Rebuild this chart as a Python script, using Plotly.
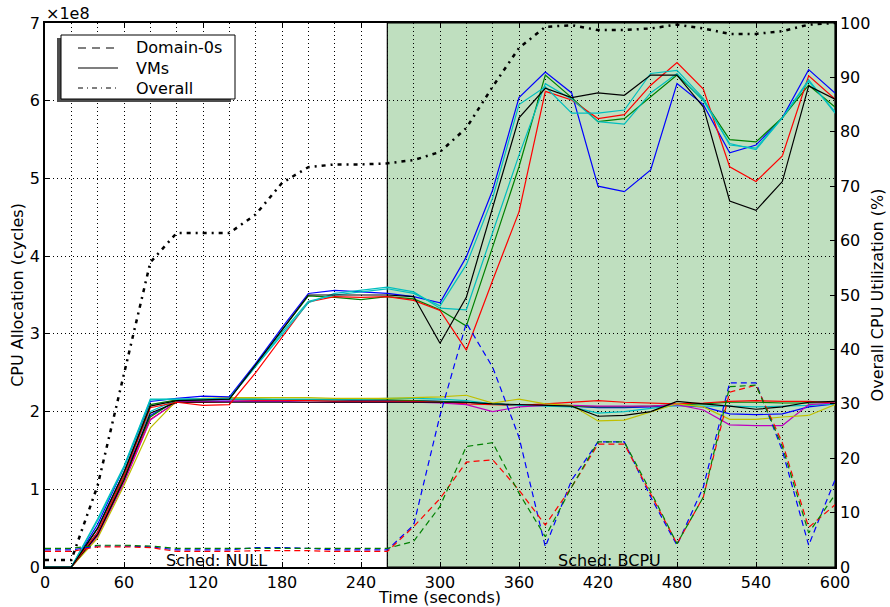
import plotly.graph_objects as go

# Sample times (seconds)
times = [0, 20, 40, 60, 80, 100, 120, 140, 160, 180, 200, 220, 240, 260, 280, 300,
         320, 340, 360, 380, 400, 420, 440, 460, 480, 500, 520, 540, 560, 580, 600]

# Domain-0 CPU allocation (x1e8 cycles)
dom0_blue = [0.22, 0.22, 0.27, 0.27, 0.26, 0.22, 0.22, 0.22, 0.25, 0.25, 0.24, 0.22, 0.22, 0.22, 0.54, 1.95,
             3.14, 2.57, 1.67, 0.26, 1.12, 1.61, 1.61, 0.90, 0.28, 1.03, 2.37, 2.37, 1.50, 0.28, 1.12]
dom0_red = [0.20, 0.20, 0.26, 0.26, 0.25, 0.20, 0.20, 0.20, 0.21, 0.21, 0.21, 0.20, 0.20, 0.20, 0.52, 0.88,
            1.35, 1.38, 0.99, 0.54, 1.03, 1.58, 1.58, 0.95, 0.30, 0.90, 2.25, 2.34, 1.60, 0.51, 0.80]
dom0_green = [0.24, 0.24, 0.28, 0.28, 0.27, 0.24, 0.24, 0.24, 0.24, 0.24, 0.24, 0.24, 0.24, 0.24, 0.33, 0.78,
              1.55, 1.60, 0.95, 0.39, 1.03, 1.61, 1.61, 0.97, 0.30, 0.90, 2.32, 2.34, 1.55, 0.44, 0.93]

# VM CPU allocation (x1e8 cycles): VMs that grow after t=140
vm_hi_blue = [0, 0, 0.55, 1.28, 2.13, 2.17, 2.20, 2.19, 2.62, 3.08, 3.52, 3.56, 3.54, 3.52, 3.48, 3.40,
              3.99, 4.85, 6.04, 6.37, 6.10, 4.90, 4.83, 5.11, 6.22, 5.95, 5.33, 5.43, 5.78, 6.40, 6.10]
vm_hi_green = [0, 0, 0.50, 1.22, 2.09, 2.15, 2.15, 2.16, 2.60, 3.05, 3.49, 3.47, 3.44, 3.48, 3.45, 3.31,
               3.10, 4.12, 5.15, 6.33, 6.04, 5.73, 5.77, 6.05, 6.33, 6.01, 5.50, 5.47, 5.78, 6.20, 5.92]
vm_hi_red = [0, 0, 0.45, 1.18, 2.05, 2.12, 2.08, 2.09, 2.50, 2.95, 3.41, 3.48, 3.47, 3.48, 3.43, 3.30,
             2.79, 3.69, 4.57, 6.12, 6.01, 5.77, 5.82, 6.20, 6.49, 6.15, 5.15, 4.96, 5.29, 6.32, 6.02]
vm_hi_cyan = [0, 0, 0.62, 1.30, 2.16, 2.16, 2.16, 2.17, 2.58, 3.00, 3.40, 3.52, 3.56, 3.60, 3.54, 3.33,
              3.31, 4.30, 5.30, 6.22, 6.02, 5.73, 5.70, 6.10, 6.35, 6.00, 5.45, 5.37, 5.78, 6.25, 5.86]
vm_hi_cyan2 = [0, 0, 0.60, 1.28, 2.15, 2.16, 2.16, 2.17, 2.58, 3.02, 3.42, 3.50, 3.54, 3.58, 3.52, 3.36,
               3.89, 4.75, 5.95, 6.18, 5.84, 5.84, 5.88, 6.35, 6.39, 6.03, 5.43, 5.39, 5.78, 6.27, 5.84]
vm_hi_black = [0, 0, 0.50, 1.22, 2.07, 2.14, 2.15, 2.16, 2.60, 3.05, 3.50, 3.50, 3.50, 3.50, 3.48, 2.88,
               3.47, 4.64, 5.78, 6.16, 6.04, 6.10, 6.07, 6.33, 6.33, 5.92, 4.71, 4.59, 4.96, 6.19, 6.02]

# VMs that stay near 2.1e8
vm_lo_blue = [0, 0, 0.45, 1.18, 1.95, 2.14, 2.15, 2.15, 2.15, 2.15, 2.15, 2.15, 2.14, 2.14, 2.14, 2.13,
              2.12, 2.10, 2.08, 2.08, 2.07, 2.05, 2.05, 2.06, 2.08, 2.06, 1.97, 1.96, 1.97, 2.06, 2.10]
vm_lo_green = [0, 0, 0.42, 1.15, 1.93, 2.15, 2.16, 2.16, 2.16, 2.15, 2.15, 2.15, 2.15, 2.15, 2.14, 2.13,
               2.12, 2.10, 2.08, 2.08, 2.07, 2.06, 2.06, 2.07, 2.09, 2.10, 2.12, 2.12, 2.11, 2.11, 2.12]
vm_lo_red = [0, 0, 0.40, 1.12, 1.90, 2.12, 2.12, 2.13, 2.14, 2.14, 2.14, 2.13, 2.13, 2.13, 2.13, 2.12,
             2.10, 2.09, 2.08, 2.10, 2.12, 2.14, 2.12, 2.11, 2.10, 2.11, 2.13, 2.14, 2.13, 2.13, 2.11]
vm_lo_cyan = [0, 0, 0.50, 1.22, 2.00, 2.15, 2.16, 2.16, 2.16, 2.16, 2.16, 2.16, 2.16, 2.17, 2.17, 2.16,
              2.14, 2.10, 2.08, 2.07, 2.06, 1.98, 2.00, 2.04, 2.08, 2.07, 2.07, 2.06, 2.07, 2.08, 2.10]
vm_lo_magenta = [0, 0, 0.40, 1.08, 1.89, 2.13, 2.13, 2.13, 2.13, 2.13, 2.12, 2.12, 2.12, 2.12, 2.12, 2.11,
                 2.09, 2.00, 2.06, 2.08, 2.08, 2.07, 2.07, 2.07, 2.09, 2.02, 1.83, 1.82, 1.82, 2.09, 2.11]
vm_lo_yellow = [0, 0, 0.37, 1.05, 1.79, 2.14, 2.17, 2.18, 2.18, 2.18, 2.18, 2.17, 2.17, 2.17, 2.18, 2.19,
                2.21, 2.11, 2.16, 2.10, 2.08, 1.88, 1.89, 2.00, 2.10, 2.06, 1.90, 1.90, 1.93, 1.95, 2.09]
vm_lo_black = [0, 0, 0.42, 1.12, 1.98, 2.12, 2.12, 2.12, 2.12, 2.12, 2.12, 2.12, 2.12, 2.12, 2.12, 2.12,
               2.12, 2.10, 2.09, 2.08, 2.07, 1.94, 1.95, 2.00, 2.13, 2.10, 2.07, 2.03, 2.06, 2.12, 2.13]

# Overall CPU utilization (%)
overall = [1.3, 1.3, 15.0, 35.7, 56.0, 61.4, 61.4, 61.4, 64.8, 70.6, 73.5, 74.0, 74.0, 74.2, 74.8, 76.3,
           80.7, 88.3, 95.4, 99.3, 99.6, 98.7, 98.7, 99.0, 99.7, 99.0, 98.0, 98.0, 98.5, 99.7, 100.0]

x_ticks = [0, 60, 120, 180, 240, 300, 360, 420, 480, 540, 600]
y_ticks = [0, 1, 2, 3, 4, 5, 6, 7]
y2_ticks = [0, 10, 20, 30, 40, 50, 60, 70, 80, 90, 100]

# Legend entries: label and line dash
legend_labels = ["Domain-0s", "VMs", "Overall"]
legend_dashes = ["8px,6px", "solid", "5px,4px,1px,4px"]

BLUE, GREEN, RED = "#0000ff", "#008000", "#ff0000"
CYAN, MAGENTA, YELLOW, BLACK = "#00bfbf", "#bf00bf", "#bfbf00", "#000000"

FONT = "DejaVu Sans"
W, H = 890, 607
ML, MR, MT, MB = 45, 55, 23, 40
PW, PH = W - ML - MR, H - MT - MB


def px_x(px):
    return (px - ML) / PW


def px_y(py):
    return (H - MB - py) / PH


fig = go.Figure()

vm_series = [
    (vm_lo_blue, BLUE), (vm_lo_green, GREEN), (vm_lo_red, RED), (vm_lo_cyan, CYAN),
    (vm_lo_magenta, MAGENTA), (vm_lo_yellow, YELLOW), (vm_lo_black, BLACK),
    (vm_hi_blue, BLUE), (vm_hi_green, GREEN), (vm_hi_red, RED), (vm_hi_cyan, CYAN),
    (vm_hi_cyan2, CYAN), (vm_hi_black, BLACK),
]
for vals, col in vm_series:
    fig.add_trace(go.Scatter(x=times, y=vals, mode="lines", showlegend=False,
                             line=dict(color=col, width=1.2), hoverinfo="skip"))

for vals, col in [(dom0_blue, BLUE), (dom0_red, RED), (dom0_green, GREEN)]:
    fig.add_trace(go.Scatter(x=times, y=vals, mode="lines", showlegend=False,
                             line=dict(color=col, width=1.2, dash="6px,4px"), hoverinfo="skip"))

fig.add_trace(go.Scatter(x=times, y=overall, mode="lines", yaxis="y2", showlegend=False,
                         line=dict(color=BLACK, width=2.5, dash="4px,5px,2px,5px"),
                         hoverinfo="skip"))

shapes = [
    # BCPU scheduler period
    dict(type="rect", xref="x", yref="y domain", x0=260, x1=600, y0=0, y1=1,
         fillcolor="rgba(0,128,0,0.25)", line=dict(color=BLACK, width=1.2), layer="below"),
    # legend shadow and frame
    dict(type="rect", xref="paper", yref="paper", x0=px_x(57), x1=px_x(231),
         y0=px_y(102), y1=px_y(38), fillcolor="#4d4d4d", line=dict(width=0), layer="above"),
    dict(type="rect", xref="paper", yref="paper", x0=px_x(61), x1=px_x(235),
         y0=px_y(99), y1=px_y(35), fillcolor="white", line=dict(color=BLACK, width=1),
         layer="above"),
]

annotations = [
    dict(text="×1e8", xref="paper", yref="paper", x=0, y=1, xanchor="left", yanchor="bottom",
         showarrow=False, font=dict(size=16, color=BLACK), xshift=-1, yshift=-2),
    dict(text="Sched: NULL", xref="x", yref="y", x=130, y=0, xanchor="center",
         yanchor="bottom", showarrow=False, font=dict(size=16, color=BLACK), yshift=-5),
    dict(text="Sched: BCPU", xref="x", yref="y", x=428.5, y=0, xanchor="center",
         yanchor="bottom", showarrow=False, font=dict(size=16, color=BLACK), yshift=-5),
]

# Legend rows
for i, (label, dash) in enumerate(zip(legend_labels, legend_dashes)):
    row_y = 48 + 20 * i
    shapes.append(dict(type="line", xref="paper", yref="paper", x0=px_x(78), x1=px_x(118),
                       y0=px_y(row_y), y1=px_y(row_y),
                       line=dict(color=BLACK, width=1.2, dash=dash), layer="above"))
    annotations.append(dict(text=label, xref="paper", yref="paper", x=px_x(134), y=px_y(row_y),
                            xanchor="left", yanchor="middle", showarrow=False,
                            font=dict(size=16, color=BLACK)))

grid = dict(showgrid=True, gridcolor=BLACK, gridwidth=1, griddash="1px,3px")

fig.update_layout(
    width=W, height=H,
    margin=dict(l=ML, r=MR, t=MT, b=MB, pad=0),
    paper_bgcolor="white", plot_bgcolor="white",
    font=dict(family=FONT, size=16, color=BLACK),
    shapes=shapes, annotations=annotations,
    showlegend=False,
    xaxis=dict(range=[0, 600], tickvals=x_ticks, ticks="inside", ticklen=5,
               tickcolor=BLACK, showline=True, linecolor=BLACK, linewidth=1.5,
               mirror="ticks", zeroline=False, automargin=False, **grid,
               minor=dict(dtick=20, tick0=0, showgrid=True, gridcolor=BLACK,
                          gridwidth=1, griddash="1px,3px"),
               title=dict(text="Time (seconds)", font=dict(size=16), standoff=3)),
    yaxis=dict(range=[0, 7], tickvals=y_ticks, ticks="inside", ticklen=5,
               tickcolor=BLACK, showline=True, linecolor=BLACK, linewidth=1.5,
               zeroline=False, automargin=False, **grid,
               title=dict(text="CPU Allocation (cycles)", font=dict(size=16), standoff=2)),
    yaxis2=dict(range=[0, 100], tickvals=y2_ticks, overlaying="y", side="right",
                ticks="inside", ticklen=5, tickcolor=BLACK, showline=True,
                linecolor=BLACK, linewidth=1.5, showgrid=False, zeroline=False,
                automargin=False,
                title=dict(text="Overall CPU Utilization (%)", font=dict(size=16), standoff=2)),
)

fig.write_html("out.html")
